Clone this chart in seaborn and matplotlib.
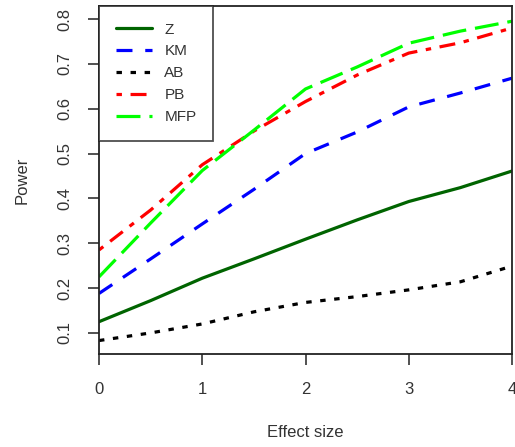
import matplotlib
matplotlib.use("Agg")
import matplotlib.pyplot as plt
from matplotlib.lines import Line2D
import seaborn as sns
import pandas as pd

effect = [0, 0.5, 1, 1.5, 2, 2.5, 3, 3.5, 4]
power_z = [0.125, 0.172, 0.222, 0.265, 0.309, 0.352, 0.393, 0.424, 0.461]
power_km = [0.188, 0.265, 0.343, 0.420, 0.500, 0.548, 0.604, 0.635, 0.668]
power_ab = [0.083, 0.100, 0.120, 0.147, 0.168, 0.181, 0.196, 0.214, 0.249]
power_pb = [0.285, 0.374, 0.475, 0.550, 0.616, 0.675, 0.724, 0.747, 0.780]
power_mfp = [0.225, 0.345, 0.462, 0.552, 0.644, 0.693, 0.746, 0.773, 0.795]
methods = ["Z", "KM", "AB", "PB", "MFP"]
series = [power_z, power_km, power_ab, power_pb, power_mfp]

rows = []
for m, vals in zip(methods, series):
    for e, v in zip(effect, vals):
        rows.append({"Effect size": e, "Power": v, "Method": m})
df = pd.DataFrame(rows)

colors = {"Z": "#006400", "KM": "#0000FF", "AB": "#000000", "PB": "#FF0000", "MFP": "#00FF00"}
dashes = {"Z": "", "KM": (5, 4), "AB": (1.7, 2.7), "PB": (1.7, 2.7, 5, 2.7), "MFP": (7.5, 2.8)}

sns.set_theme(style="white")
plt.rcParams["font.family"] = ["Liberation Sans", "DejaVu Sans"]

fig = plt.figure(figsize=(5.15, 4.47), dpi=100)
ax = fig.add_axes([99 / 515, 1 - 354 / 447, 413 / 515, 348 / 447])

LW = 2.3
sns.lineplot(data=df, x="Effect size", y="Power", hue="Method", style="Method",
             palette=colors, dashes=dashes, hue_order=methods, style_order=methods,
             linewidth=LW, legend=False, ax=ax)
for ln in ax.get_lines():
    ln.set_dash_capstyle("butt")

ax.set_xlim(0, 4)
ax.set_ylim(0.053, 0.829)
ax.set_xticks([0, 1, 2, 3, 4])
ax.set_yticks([0.1, 0.2, 0.3, 0.4, 0.5, 0.6, 0.7, 0.8])
ax.set_xticklabels(["0", "1", "2", "3", "4"])
ax.set_yticklabels(["0.1", "0.2", "0.3", "0.4", "0.5", "0.6", "0.7", "0.8"], rotation=90, va="center")
ax.tick_params(axis="both", direction="out", length=8, width=1.1, color="#222222",
               labelsize=12, labelcolor="#333333", left=True, bottom=True)
ax.tick_params(axis="y", pad=11)
ax.tick_params(axis="x", pad=12)
for sp in ax.spines.values():
    sp.set_color("#222222")
    sp.set_linewidth(1.3)

ax.set_xlabel("Effect size", fontsize=12, color="#333333")
ax.set_ylabel("Power", fontsize=12, color="#333333")
ax.xaxis.set_label_coords(0.5, (354 - 425) / 348)
ax.yaxis.set_label_coords((30 - 99) / 413, 0.5)

handles = []
for m in methods:
    h = Line2D([0], [0], color=colors[m], linewidth=LW)
    if dashes[m]:
        h.set_dashes(dashes[m])
    h.set_dash_capstyle("butt")
    handles.append(h)
leg = ax.legend(handles, methods, loc="upper left", bbox_to_anchor=(0, 1), borderaxespad=0,
                frameon=True, fancybox=False, fontsize=11, handlelength=2.4,
                handletextpad=0.8, labelspacing=0.52, borderpad=1.08)
leg.get_frame().set_edgecolor("#222222")
leg.get_frame().set_linewidth(1.3)
for t in leg.get_texts():
    t.set_color("#333333")

fig.savefig("out.png", dpi=100)
